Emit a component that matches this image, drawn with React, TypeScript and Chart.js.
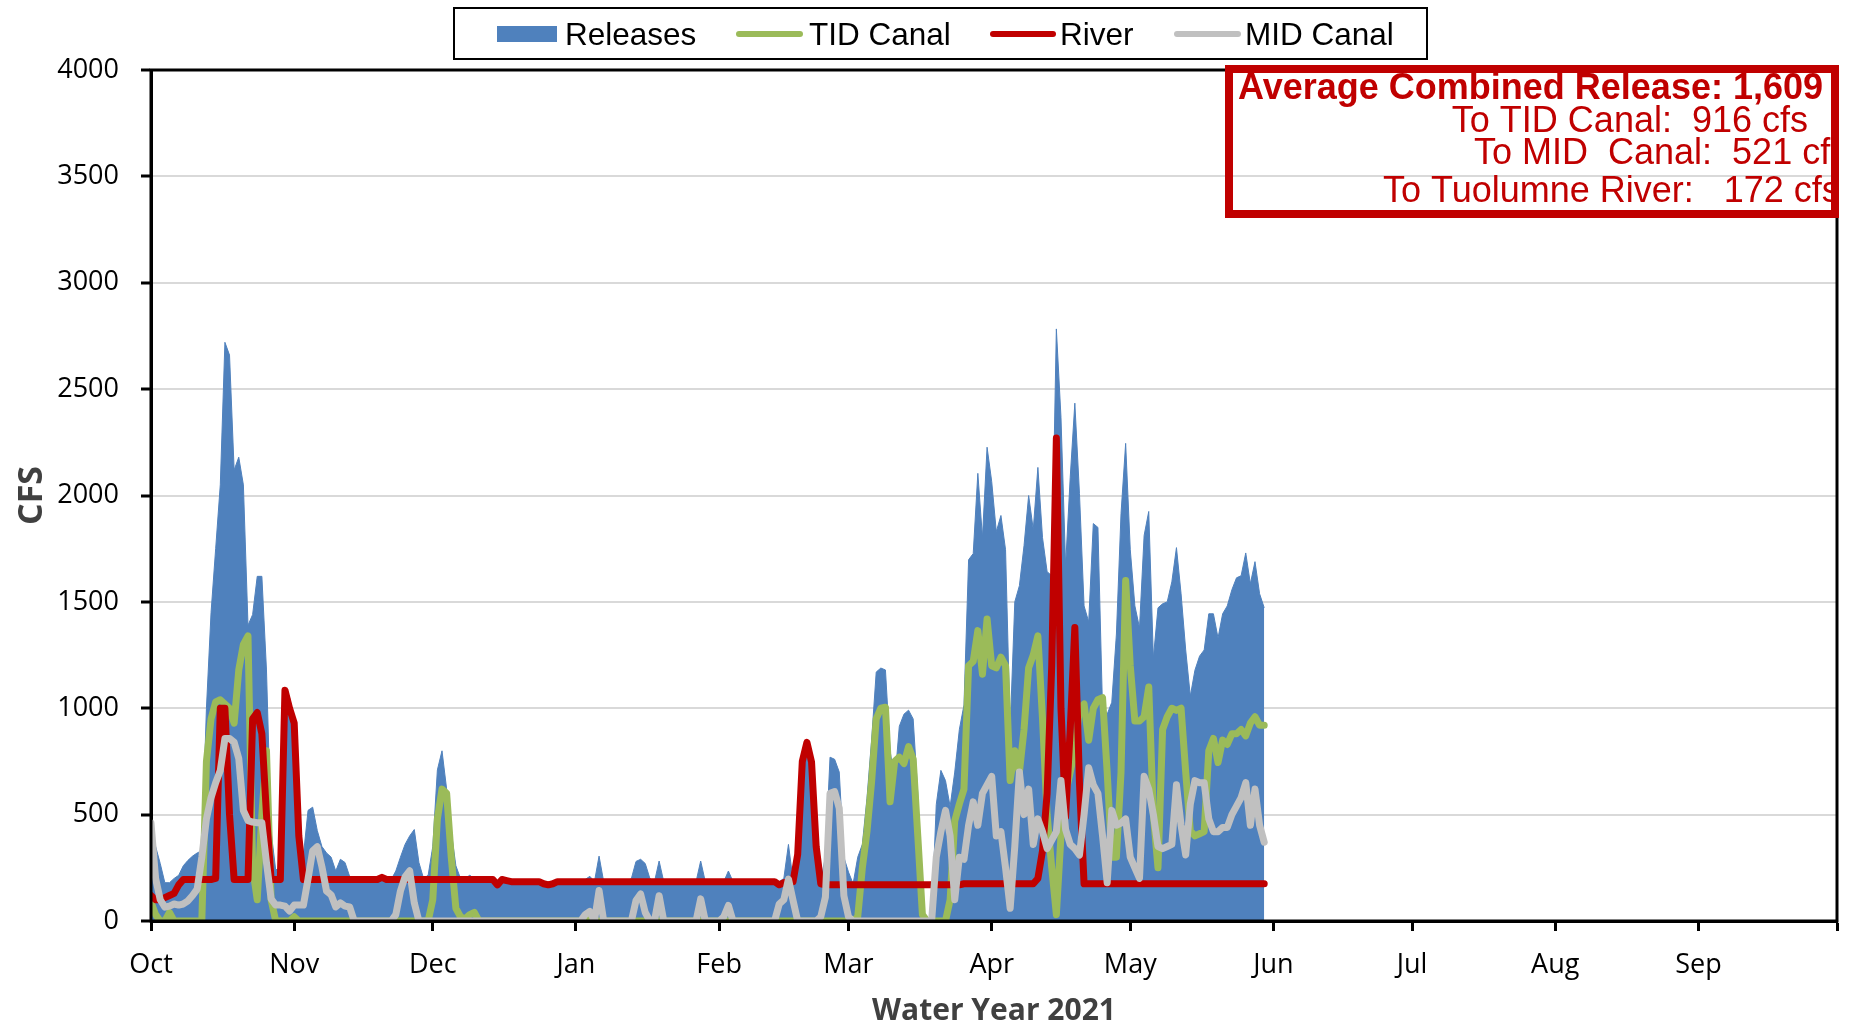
import React, { useEffect, useRef } from "react";
import { Chart, registerables } from "chart.js";

Chart.register(...registerables);

// Month tick positions (days since Oct 1) and labels
const monthStartDays = [0, 31, 61, 92, 123, 151, 182, 212, 243, 273, 304, 335, 365];
const monthLabels = ["Oct", "Nov", "Dec", "Jan", "Feb", "Mar", "Apr", "May", "Jun", "Jul", "Aug", "Sep", ""];
const yTickValues = [0, 500, 1000, 1500, 2000, 2500, 3000, 3500, 4000];

// Daily values, Oct 1 2020 .. May 30 2021 (cfs)
const releases = [
  // Oct
  470, 350, 270, 180, 180, 200, 215, 260, 285, 305, 320, 330, 1000, 1450, 1750, 2050, 2720, 2660, 2120, 2180, 2050, 1390, 1440, 1620, 1620, 1180, 420, 240, 250, 1100, 1050,
  // Nov
  950, 420, 310, 520, 535, 425, 350, 320, 300, 235, 290, 275, 210, 195, 195, 195, 195, 195, 195, 205, 195, 195, 235, 300, 360, 400, 430, 275, 200, 215,
  // Dec
  350, 710, 800, 620, 420, 260, 200, 200, 215, 200, 195, 195, 195, 195, 175, 195, 190, 185, 185, 185, 185, 185, 185, 185, 175, 170, 175, 185, 185, 185, 185,
  // Jan
  185, 185, 195, 210, 185, 305, 185, 185, 185, 185, 185, 185, 200, 280, 290, 270, 200, 185, 282, 185, 185, 185, 185, 185, 185, 185, 185, 282, 185, 185, 185,
  // Feb
  185, 185, 235, 185, 185, 185, 185, 185, 185, 185, 185, 185, 185, 185, 200, 360, 190, 330, 760, 850, 760, 400, 190, 300, 770, 760, 700, 300,
  // Mar
  230, 175, 300, 360, 577, 850, 1170, 1189, 1180, 802, 651, 915, 972, 991, 950, 600, 28, 10, 10, 547, 708, 660, 538, 700, 900, 1015, 1698, 1727, 2104, 1802, 2227,
  // Apr
  2066, 1830, 1906, 1745, 900, 1500, 1576, 1764, 2000, 1840, 2132, 1802, 1642, 1623, 2783, 2368, 1670, 2085, 2434, 2010, 1481, 1406, 1868, 1850, 991, 972, 1028, 1349, 1915, 2245,
  // May
  1745, 1481, 1378, 1812, 1925, 1236, 1472, 1491, 1500, 1594, 1755, 1538, 1274, 1057, 1179, 1245, 1274, 1444, 1444, 1330, 1444, 1481, 1557, 1613, 1623, 1730, 1585, 1689, 1538, 1472,
];

const tidCanal = [
  // Oct
  90, 30, 0, 0, 40, 0, 0, 0, 0, 0, 0, 0, 750, 950, 1030, 1040, 1020, 1000, 930, 1180, 1300, 1340, 250, 100, 500, 800, 100, 0, 0, 0, 0,
  // Nov
  20, 0, 0, 0, 0, 0, 0, 0, 0, 0, 0, 0, 0, 0, 0, 0, 0, 0, 0, 0, 0, 0, 0, 0, 0, 0, 0, 0, 0, 0,
  // Dec
  100, 480, 620, 600, 300, 60, 20, 10, 30, 40, 0, 0, 0, 0, 0, 0, 0, 0, 0, 0, 0, 0, 0, 0, 0, 0, 0, 0, 0, 0, 0,
  // Jan
  0, 0, 15, 20, 0, 0, 0, 0, 0, 0, 0, 0, 0, 0, 0, 0, 0, 0, 0, 0, 0, 0, 0, 0, 0, 0, 0, 0, 0, 0, 0,
  // Feb
  0, 0, 0, 0, 0, 0, 0, 0, 0, 0, 0, 0, 0, 0, 0, 0, 0, 0, 0, 0, 0, 0, 0, 0, 0, 0, 0, 0,
  // Mar
  0, 0, 20, 250, 420, 654, 950, 1000, 1005, 560, 750, 770, 740, 820, 760, 400, 30, 0, 0, 0, 0, 0, 100, 470, 550, 620, 1200, 1220, 1365, 1160, 1420,
  // Apr
  1200, 1190, 1240, 1200, 660, 800, 700, 900, 1190, 1250, 1340, 950, 500, 250, 30, 400, 600, 700, 800, 1000, 1020, 850, 1000, 1040, 1050, 700, 300, 300, 700, 1600,
  // May
  1200, 940, 940, 960, 1100, 500, 250, 900, 960, 1000, 990, 1000, 700, 424, 400, 410, 420, 800, 858, 745, 850, 830, 880, 880, 900, 870, 930, 960, 920, 920,
];

const river = [
  // Oct
  120, 100, 100, 110, 120, 130, 170, 195, 195, 195, 195, 195, 195, 195, 200, 1000, 1000, 500, 195, 195, 195, 195, 950, 980, 880, 500, 195, 195, 195, 1085, 1000,
  // Nov
  930, 400, 195, 195, 195, 195, 195, 195, 195, 195, 195, 195, 195, 195, 195, 195, 195, 195, 195, 205, 195, 195, 195, 195, 195, 195, 195, 195, 195, 195,
  // Dec
  195, 195, 195, 195, 195, 195, 195, 195, 195, 195, 195, 195, 195, 195, 170, 195, 190, 185, 185, 185, 185, 185, 185, 185, 175, 170, 175, 185, 185, 185, 185,
  // Jan
  185, 185, 185, 185, 185, 185, 185, 185, 185, 185, 185, 185, 185, 185, 185, 185, 185, 185, 185, 185, 185, 185, 185, 185, 185, 185, 185, 185, 185, 185, 185,
  // Feb
  185, 185, 185, 185, 185, 185, 185, 185, 185, 185, 185, 185, 185, 170, 180, 185, 185, 313, 750, 840, 747, 350, 175, 170, 170, 170, 170, 170,
  // Mar
  170, 170, 170, 170, 170, 170, 170, 170, 170, 170, 170, 170, 170, 170, 170, 170, 170, 170, 170, 170, 170, 170, 170, 170, 170, 175, 175, 175, 175, 175, 175,
  // Apr
  175, 175, 175, 175, 175, 175, 175, 175, 175, 175, 200, 330, 600, 1200, 2270, 1000, 490, 900, 1380, 650, 175, 175, 175, 175, 175, 175, 175, 175, 175, 175,
  // May
  175, 175, 175, 175, 175, 175, 175, 175, 175, 175, 175, 175, 175, 175, 175, 175, 175, 175, 175, 175, 175, 175, 175, 175, 175, 175, 175, 175, 175, 175,
];

const midCanal = [
  // Oct
  460, 200, 100, 65, 70, 80, 75, 80, 95, 120, 150, 300, 480, 580, 650, 707, 858, 858, 840, 764, 519, 472, 465, 462, 462, 274, 104, 75, 75, 70, 47,
  // Nov
  75, 75, 75, 198, 330, 349, 255, 141, 123, 66, 85, 70, 66, 0, 0, 0, 0, 0, 0, 0, 0, 0, 30, 141, 207, 236, 85, 0, 0, 0,
  // Dec
  0, 0, 0, 0, 0, 0, 0, 0, 0, 0, 0, 0, 0, 0, 0, 0, 0, 0, 0, 0, 0, 0, 0, 0, 0, 0, 0, 0, 0, 0, 0,
  // Jan
  0, 0, 30, 45, 0, 143, 0, 0, 0, 0, 0, 0, 0, 96, 127, 40, 0, 0, 119, 0, 0, 0, 0, 0, 0, 0, 0, 104, 0, 0, 0,
  // Feb
  0, 20, 73, 0, 0, 0, 0, 0, 0, 0, 0, 0, 0, 80, 100, 197, 96, 0, 0, 0, 0, 0, 20, 112, 600, 608, 530, 119,
  // Mar
  20, 0, 0, 0, 0, 0, 0, 0, 0, 0, 0, 0, 0, 0, 0, 0, 0, 0, 0, 300, 420, 520, 400, 100, 300, 290, 450, 560, 450, 600, 640,
  // Apr
  680, 400, 420, 250, 60, 350, 700, 500, 620, 360, 480, 420, 340, 380, 420, 660, 430, 360, 340, 310, 500, 720, 640, 600, 400, 180, 520, 450, 460, 480,
  // May
  300, 250, 200, 680, 620, 500, 350, 340, 350, 360, 640, 450, 310, 550, 660, 650, 650, 480, 420, 420, 440, 440, 500, 540, 580, 650, 450, 620, 450, 370,
];

const legendLabels = ["Releases", "TID Canal", "River", "MID Canal"];

const annotationLines = [
  "Average Combined Release: 1,609",
  "To TID Canal:  916 cfs",
  "To MID  Canal:  521 cfs",
  "To Tuolumne River:   172 cfs",
];

const COLORS = {
  releases: "#4F81BD",
  tid: "#9BBB59",
  river: "#C00000",
  mid: "#C0C0C0",
};

const toXY = (arr: number[]) => arr.map((v, i) => ({ x: i, y: v }));

const decorPlugin = {
  id: "decor",
  afterDatasetsDraw(chart: any) {
    const { ctx, chartArea } = chart;
    ctx.save();
    ctx.strokeStyle = "#000";
    ctx.lineWidth = 3;
    ctx.strokeRect(chartArea.left, chartArea.top, chartArea.right - chartArea.left, chartArea.bottom - chartArea.top);
    ctx.restore();
  },
  afterDraw(chart: any) {
    const ctx: CanvasRenderingContext2D = chart.ctx;
    // Legend
    ctx.save();
    ctx.fillStyle = "#fff";
    ctx.fillRect(454, 8, 973, 51);
    ctx.strokeStyle = "#000";
    ctx.lineWidth = 2;
    ctx.strokeRect(454, 8, 973, 51);
    ctx.fillStyle = COLORS.releases;
    ctx.fillRect(497, 26, 60, 16);
    const lineItems = [
      { x1: 739, x2: 800, color: COLORS.tid },
      { x1: 993, x2: 1053, color: COLORS.river },
      { x1: 1177, x2: 1238, color: COLORS.mid },
    ];
    ctx.lineCap = "round";
    ctx.lineWidth = 6;
    for (const it of lineItems) {
      ctx.strokeStyle = it.color;
      ctx.beginPath();
      ctx.moveTo(it.x1, 34);
      ctx.lineTo(it.x2, 34);
      ctx.stroke();
    }
    ctx.fillStyle = "#000";
    ctx.font = "31.5px 'Liberation Sans', Arial, sans-serif";
    ctx.textAlign = "left";
    ctx.textBaseline = "alphabetic";
    const legendX = [565, 809, 1060, 1245];
    legendLabels.forEach((t, i) => ctx.fillText(t, legendX[i], 45));
    ctx.restore();

    // Annotation box
    ctx.save();
    ctx.beginPath();
    ctx.rect(1233, 73, 598, 137);
    ctx.clip();
    ctx.fillStyle = COLORS.river;
    ctx.textBaseline = "alphabetic";
    ctx.font = "bold 36px 'Liberation Sans', Arial, sans-serif";
    ctx.textAlign = "right";
    ctx.fillText(annotationLines[0], 1823, 99);
    ctx.font = "36px 'Liberation Sans', Arial, sans-serif";
    ctx.fillText(annotationLines[1], 1808, 132);
    ctx.textAlign = "left";
    ctx.fillText(annotationLines[2], 1474, 164);
    ctx.fillText(annotationLines[3], 1383, 202);
    ctx.restore();
    ctx.save();
    ctx.strokeStyle = COLORS.river;
    ctx.lineWidth = 8;
    ctx.strokeRect(1229, 69, 606, 145);
    ctx.restore();
  },
};

export default function App() {
  const canvasRef = useRef<HTMLCanvasElement | null>(null);

  useEffect(() => {
    document.body.style.margin = "0";
    document.body.style.overflow = "hidden";
    const canvas = canvasRef.current;
    if (!canvas) return;
    const lineCommon = {
      pointRadius: 0,
      borderWidth: 7,
      fill: false,
      tension: 0,
      borderJoinStyle: "round" as const,
      borderCapStyle: "round" as const,
    };
    const chart = new Chart(canvas, {
      type: "line",
      data: {
        datasets: [
          { label: legendLabels[3], data: toXY(midCanal), borderColor: COLORS.mid, order: 1, ...lineCommon },
          { label: legendLabels[2], data: toXY(river), borderColor: COLORS.river, order: 2, ...lineCommon },
          { label: legendLabels[1], data: toXY(tidCanal), borderColor: COLORS.tid, order: 3, ...lineCommon },
          {
            label: legendLabels[0],
            data: toXY(releases),
            borderColor: COLORS.releases,
            backgroundColor: COLORS.releases,
            borderWidth: 1,
            pointRadius: 0,
            fill: "origin",
            tension: 0,
            order: 4,
          },
        ],
      },
      options: {
        animation: false,
        responsive: false,
        devicePixelRatio: 1,
        layout: { padding: { left: 0, right: 17, top: 70, bottom: 0 } },
        plugins: {
          legend: { display: false },
          tooltip: { enabled: false },
        },
        scales: {
          x: {
            type: "linear",
            min: 0,
            max: 365,
            afterBuildTicks: (s: any) => {
              s.ticks = monthStartDays.map((v) => ({ value: v }));
            },
            afterFit: (s: any) => {
              s.height = 105;
            },
            ticks: {
              autoSkip: false,
              maxRotation: 0,
              padding: 18,
              color: "#000",
              font: { family: "'Open Sans', sans-serif", size: 27 },
              callback: (_v: any, i: number) => monthLabels[i],
            },
            grid: {
              drawOnChartArea: false,
              drawTicks: true,
              tickLength: 10,
              tickColor: "#000",
              tickWidth: 3,
            },
            border: { display: true, color: "#000", width: 3 },
            title: {
              display: true,
              text: "Water Year 2021",
              color: "#404040",
              font: { family: "'Open Sans', sans-serif", size: 30, weight: "bold", lineHeight: 1 },
              padding: { top: 0, bottom: 0 },
            },
          },
          y: {
            min: 0,
            max: 4000,
            afterBuildTicks: (s: any) => {
              s.ticks = yTickValues.map((v) => ({ value: v }));
            },
            afterFit: (s: any) => {
              s.width = 151;
            },
            ticks: {
              padding: 22,
              color: "#000",
              font: { family: "'Open Sans', sans-serif", size: 27 },
              callback: (v: any) => String(v),
            },
            grid: {
              color: "#D9D9D9",
              lineWidth: 2,
              drawTicks: true,
              tickLength: 10,
              tickColor: "#000",
              tickWidth: 3,
            },
            border: { display: true, color: "#000", width: 3 },
            title: {
              display: true,
              text: "CFS",
              color: "#404040",
              font: { family: "'Open Sans', sans-serif", size: 34, weight: "bold" },
              padding: { top: 12, bottom: 0 },
            },
          },
        },
      },
      plugins: [decorPlugin],
    } as any);
    return () => chart.destroy();
  }, []);

  return (
    <div style={{ width: 1855, height: 1026, position: "relative", background: "#fff" }}>
      <canvas ref={canvasRef} width={1855} height={1026} style={{ display: "block" }} />
    </div>
  );
}
